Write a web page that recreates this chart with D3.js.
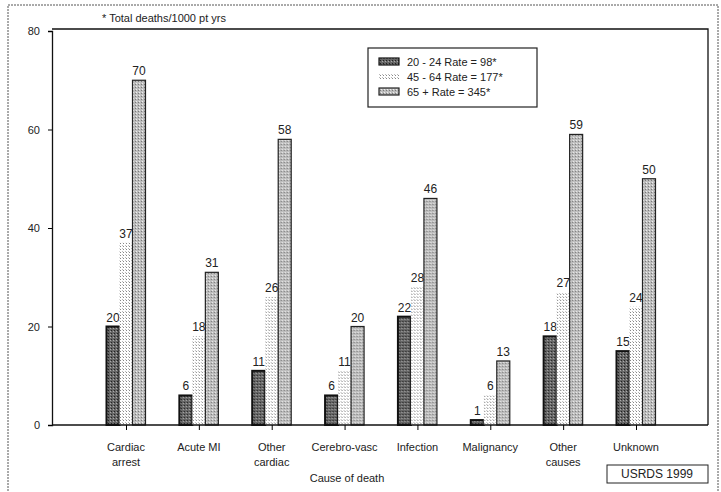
<!DOCTYPE html>
<html lang="en">
<head>
    <meta charset="UTF-8">
    <title>Cause of death</title>
    <script src="https://cdn.jsdelivr.net/npm/d3@7"></script>
    <style>
        body { margin: 0; background: #fff; }
        text { font-family: "Liberation Sans", Arial, sans-serif; fill: #222; }
    </style>
</head>
<body>
<script>

    const causes = ["Cardiac arrest", "Acute MI", "Other cardiac", "Cerebro-vasc", "Infection", "Malignancy", "Other causes", "Unknown"];
    const groups = ["20 - 24 Rate = 98*", "45 - 64 Rate = 177*", "65 + Rate = 345*"];
    const young = [20, 6, 11, 6, 22, 1, 18, 15];
    const middle = [37, 18, 26, 11, 28, 6, 27, 24];
    const old = [70, 31, 58, 20, 46, 13, 59, 50];
    const yTicks = [0, 20, 40, 60, 80];

    const series = [young, middle, old];
    const W = 721, H = 492;

    const svg = d3.select("body").append("svg").attr("width", W).attr("height", H);

    // textures for the three bar kinds
    const defs = svg.append("defs");
    const dark = defs.append("pattern").attr("id", "p0").attr("width", 3).attr("height", 3).attr("patternUnits", "userSpaceOnUse");
    dark.append("rect").attr("width", 3).attr("height", 3).attr("fill", "#666");
    dark.append("rect").attr("width", 1).attr("height", 1).attr("fill", "#222");
    dark.append("rect").attr("x", 2).attr("y", 1).attr("width", 1).attr("height", 1).attr("fill", "#aaa");
    const dots = defs.append("pattern").attr("id", "p1").attr("width", 3).attr("height", 3).attr("patternUnits", "userSpaceOnUse");
    dots.append("rect").attr("width", 3).attr("height", 3).attr("fill", "#fff");
    dots.append("rect").attr("width", 1).attr("height", 1).attr("fill", "#888");
    dots.append("rect").attr("x", 2).attr("y", 2).attr("width", 1).attr("height", 1).attr("fill", "#bbb");
    const light = defs.append("pattern").attr("id", "p2").attr("width", 3).attr("height", 3).attr("patternUnits", "userSpaceOnUse");
    light.append("rect").attr("width", 3).attr("height", 3).attr("fill", "#bdbdbd");
    light.append("rect").attr("width", 1).attr("height", 1).attr("fill", "#7a7a7a");
    light.append("rect").attr("x", 1).attr("y", 2).attr("width", 1).attr("height", 1).attr("fill", "#eee");

    const fills = ["url(#p0)", "url(#p1)", "url(#p2)"];
    const strokes = ["#111", "none", "#222"];
    const strokeW = [2, 0, 1.2];

    // outer frame of the figure
    svg.append("rect").attr("x", 8).attr("y", 5).attr("width", 710).attr("height", 490)
        .attr("fill", "none").attr("stroke", "#555").attr("stroke-width", 1).attr("stroke-dasharray", "2,1");

    const margin = {top: 29, right: 13, bottom: 67, left: 52};

    x = d3.scalePoint().domain(causes).range([126, 636]);
    xs = d3.scaleBand().domain(d3.range(3)).range([-19.5, 19.5]);
    y = d3.scaleLinear().domain([0, 80]).range([H - margin.bottom, 31]);

    // plot frame: top and right lines
    svg.append("path")
        .attr("d", `M${margin.left},${margin.top}H${W - margin.right}V${y(0)}`)
        .attr("fill", "none").attr("stroke", "#111").attr("stroke-width", 1.3);

    svg.append("text").attr("x", 102).attr("y", 22).attr("font-size", 11).text("* Total deaths/1000 pt yrs");

    // bars
    const g = svg.append("g")
        .selectAll("g")
        .data(causes)
        .join("g")
        .attr("transform", d => `translate(${x(d)},0)`);

    series.forEach((vals, k) => {
        g.append("rect")
            .attr("x", xs(k))
            .attr("width", xs.bandwidth())
            .attr("y", (d, i) => y(vals[i]))
            .attr("height", (d, i) => y(0) - y(vals[i]))
            .attr("fill", fills[k])
            .attr("stroke", strokes[k])
            .attr("stroke-width", strokeW[k]);
        g.append("text")
            .attr("x", xs(k) + xs.bandwidth() / 2)
            .attr("y", (d, i) => y(vals[i]) - 5)
            .attr("text-anchor", "middle")
            .attr("font-size", 12)
            .text((d, i) => vals[i]);
    });

    // axes
    const yAxis = svg.append("g")
        .attr("transform", `translate(${margin.left},0)`)
        .call(d3.axisLeft(y).tickValues(yTicks).tickSize(4).tickPadding(8))
        .call(g => g.selectAll("text").attr("font-size", 11).attr("fill", "#222"));
    yAxis.select(".domain").attr("stroke", "#111").attr("stroke-width", 1.3);

    const xAxis = svg.append("g")
        .attr("transform", `translate(0,${y(0)})`)
        .call(d3.axisBottom(x).tickSize(5).tickFormat(""));
    xAxis.select(".domain").attr("d", `M${margin.left},0H${W - margin.right}`).attr("stroke", "#111").attr("stroke-width", 1.3);

    // two-line category labels
    const labels = svg.append("g").selectAll("text")
        .data(causes)
        .join("text")
        .attr("x", d => x(d))
        .attr("y", 451)
        .attr("text-anchor", "middle")
        .attr("font-size", 11);
    labels.each(function (d) {
        const parts = d === "Cerebro-vasc" || d === "Acute MI" ? [d] : d.split(" ");
        d3.select(this).selectAll("tspan")
            .data(parts)
            .join("tspan")
            .attr("x", x(d))
            .attr("dy", (p, i) => i ? 15 : 0)
            .text(p => p);
    });

    svg.append("text").attr("x", 347).attr("y", 482).attr("text-anchor", "middle")
        .attr("font-size", 11).text("Cause of death");

    // legend
    const lg = svg.append("g").attr("transform", "translate(368,48)");
    lg.append("rect").attr("width", 169).attr("height", 59)
        .attr("fill", "#fff").attr("stroke", "#222").attr("stroke-width", 1.2);
    groups.forEach((t, k) => {
        lg.append("rect").attr("x", 11).attr("y", 10 + k * 15).attr("width", 20).attr("height", 7)
            .attr("fill", fills[k]).attr("stroke", strokes[k]).attr("stroke-width", k === 1 ? 0 : 1.2);
        lg.append("text").attr("x", 39).attr("y", 18 + k * 15).attr("font-size", 11).text(t);
    });

    // source box
    svg.append("rect").attr("x", 607).attr("y", 465).attr("width", 101).attr("height", 18)
        .attr("fill", "#fff").attr("stroke", "#222");
    svg.append("text").attr("x", 657).attr("y", 478).attr("text-anchor", "middle")
        .attr("font-size", 12).text("USRDS 1999");

</script>
</body>
</html>
